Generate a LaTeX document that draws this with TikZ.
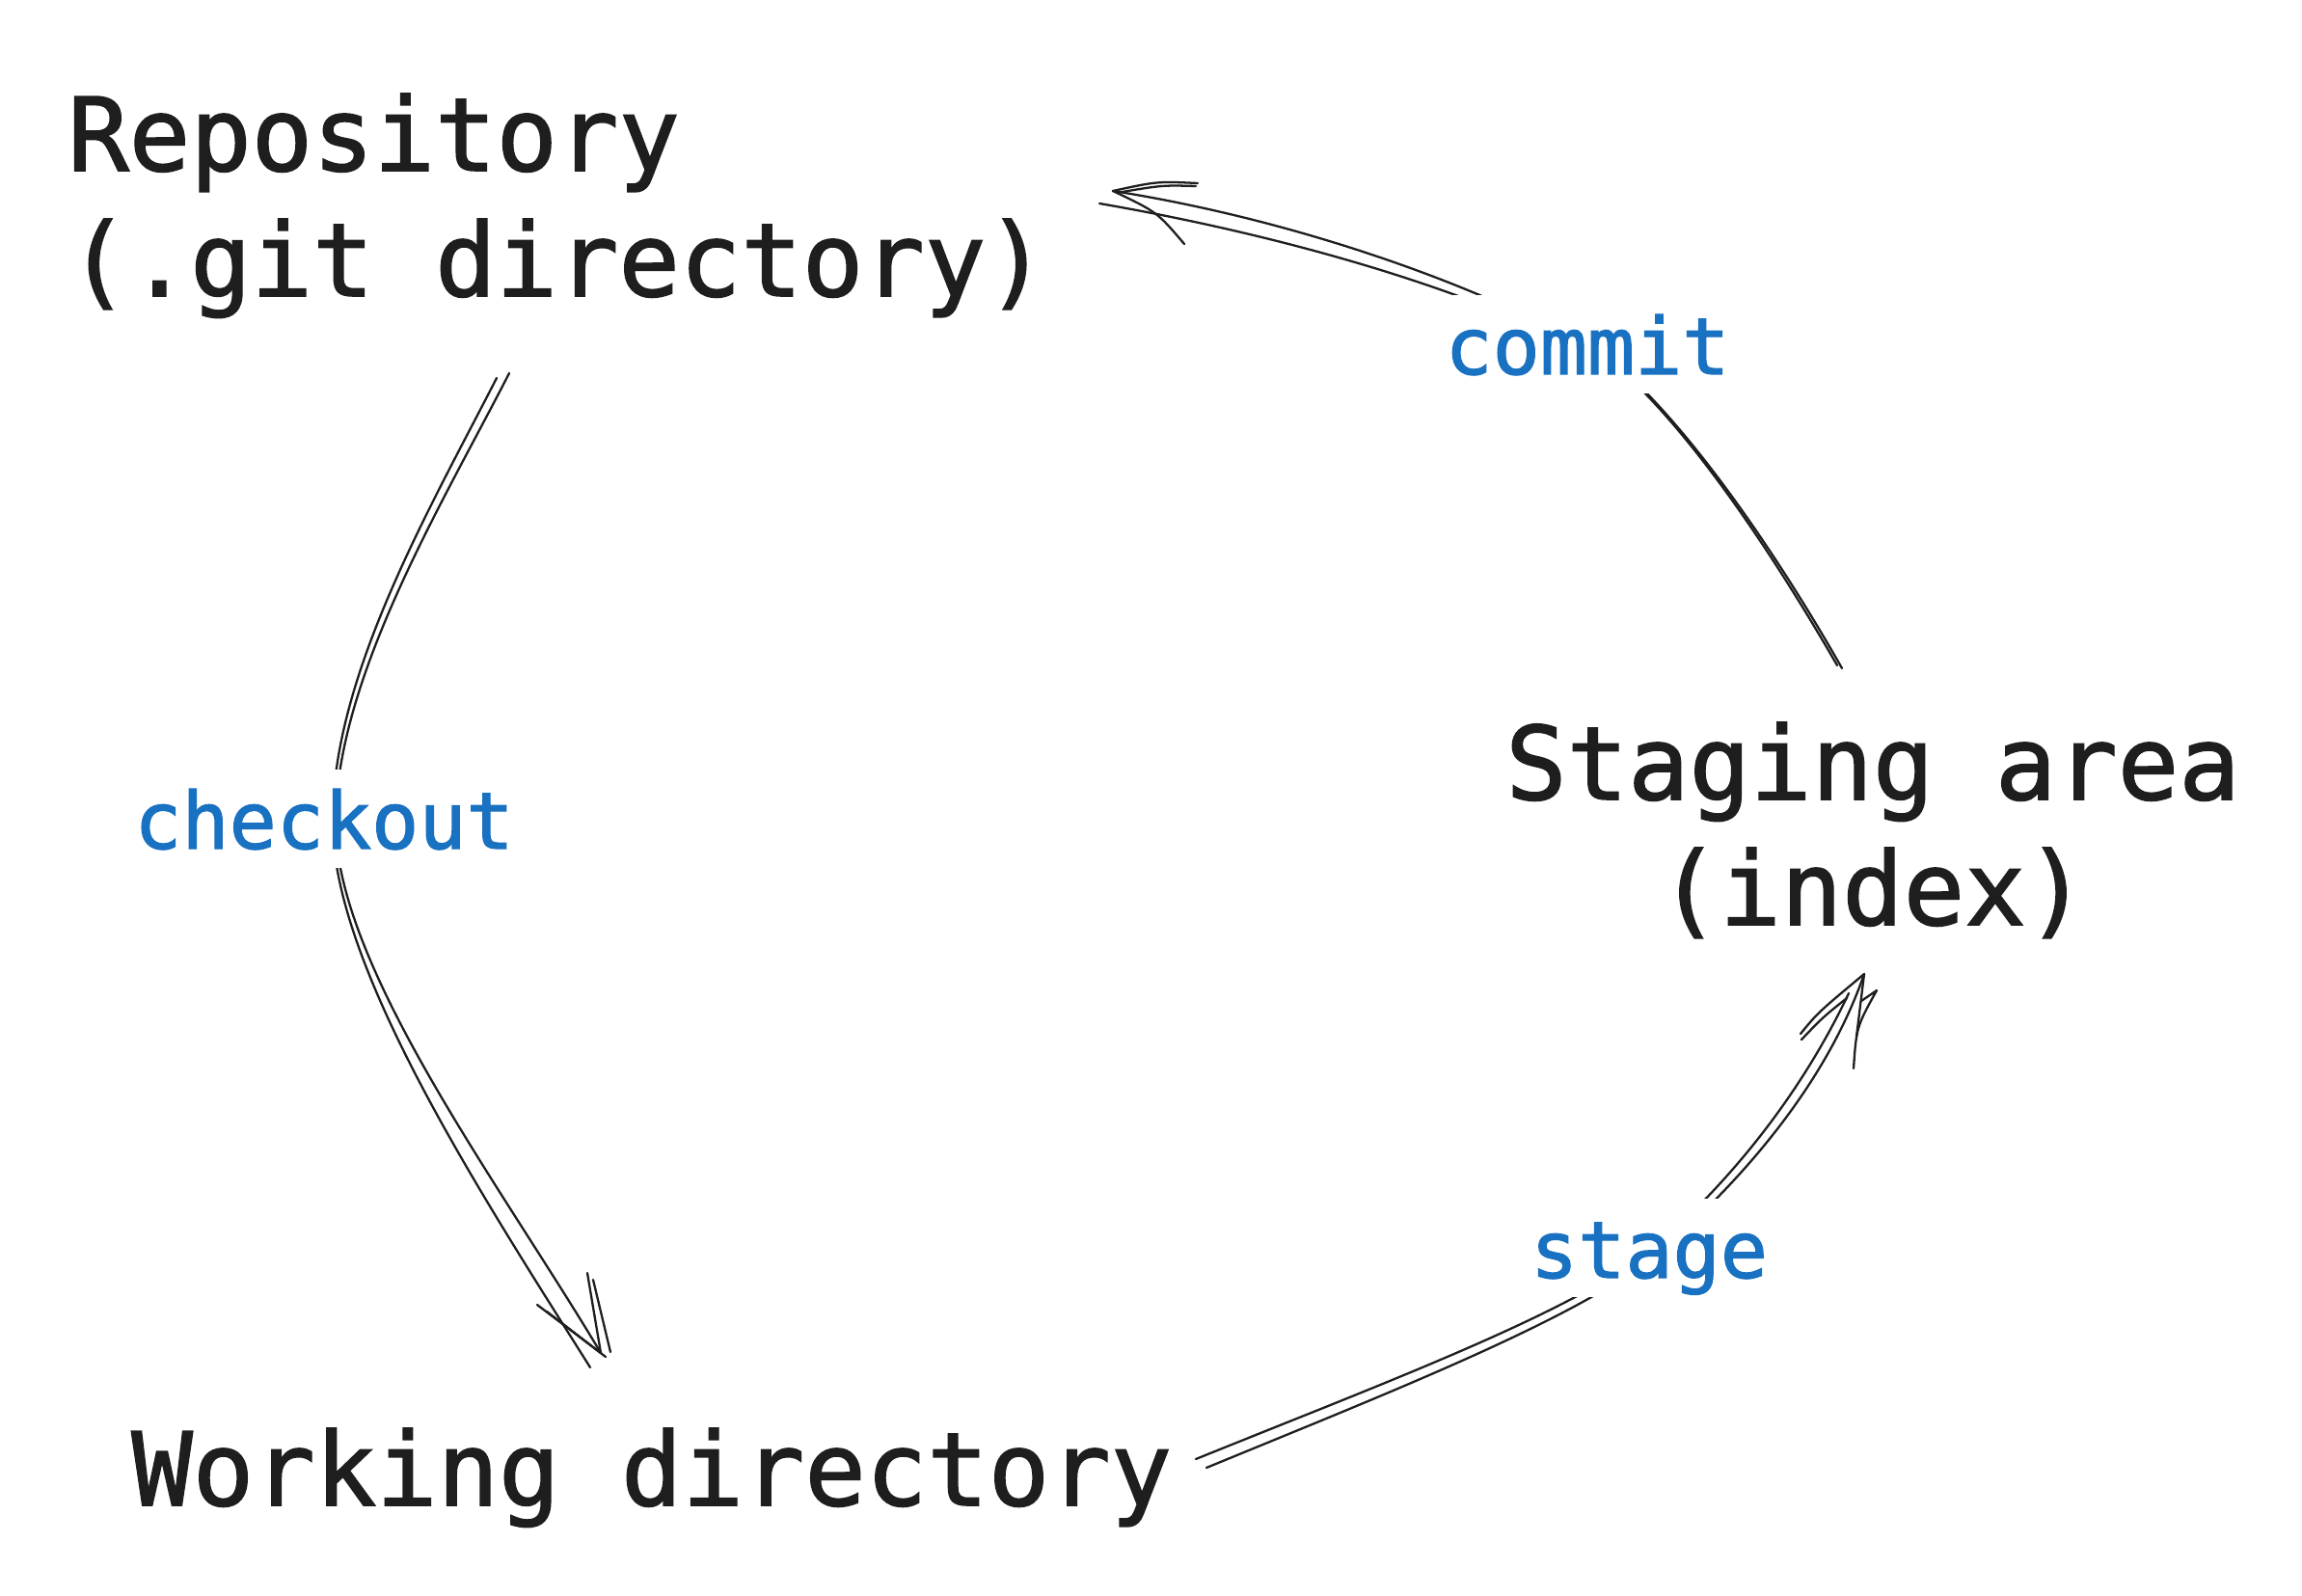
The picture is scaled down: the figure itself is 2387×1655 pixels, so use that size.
\documentclass[tikz,border=0pt]{standalone}
\usepackage{fontspec}
\usepackage{tikz}
\newfontfamily\codefont[FakeBold=1.5]{DejaVu Sans Mono}
\definecolor{ink}{HTML}{1E1E1E}
\definecolor{verb}{HTML}{1971C2}
\tikzstyle{place} = [font=\codefont\fontsize{60}{74}\selectfont, text=ink, inner sep=0pt]
\tikzstyle{action} = [font=\codefont\fontsize{46.5}{58}\selectfont, text=verb,
    fill=white, inner xsep=4pt, inner ysep=0pt, text height=1.64cm, text depth=0.4cm]
\tikzstyle{sketch} = [draw=ink, line width=1.3pt, line cap=round, line join=round]

\begin{document}
\begin{tikzpicture}[x=0.02cm, y=-0.02cm]
            \fill[white] (0,0) rectangle (2387,1655);
            \useasboundingbox (0,0) rectangle (2387,1655);

            % base of a two-line node is its last line
            \node (repo) [place, align=left, anchor=base west] at (70,307) {Repository\\(.git directory)};
            \node (index) [place, align=center, anchor=base] at (1942,959) {Staging area\\(index)};
            \node (work) [place, anchor=base west] at (136,1561) {Working directory};

            % free ends of the arrows
            \coordinate (repo-out) at (528,387);
            \coordinate (work-in) at (623,1403);
            \coordinate (work-out) at (1251,1522);
            \coordinate (index-in) at (1933,1010);
            \coordinate (index-out) at (1910,693);
            \coordinate (repo-in) at (1154,198);

            % checkout
            \draw [sketch] (repo-out) .. controls (460,520) and (350,700) .. (348,850) .. controls (346,1000) and (520,1230) .. (work-in);
            \draw [sketch] (515,392) .. controls (447,525) and (345,700) .. (345,850) .. controls (343,1000) and (500,1240) .. (612,1418);
            \draw [sketch] (557,1353) -- (work-in);
            \draw [sketch] (567,1360) -- (628,1407);
            \draw [sketch] (609,1320) -- (work-in);
            \draw [sketch] (615,1327) -- (633,1402);

            % stage
            \draw [sketch] (work-out) .. controls (1450,1440) and (1650,1362) .. (1728,1292) .. controls (1812,1218) and (1895,1120) .. (index-in);
            \draw [sketch] (1240,1513) .. controls (1440,1432) and (1640,1358) .. (1722,1288) .. controls (1805,1214) and (1872,1125) .. (1917,1030);
            \draw [sketch] (1867,1072) .. controls (1885,1050) .. (index-in);
            \draw [sketch] (1868,1078) .. controls (1890,1055) .. (1915,1035);
            \draw [sketch] (index-in) -- (1925,1075);
            \draw [sketch] (1922,1108) .. controls (1925,1065) .. (1946,1027) -- (1930,1038);

            % commit
            \draw [sketch] (index-out) .. controls (1860,605) and (1780,480) .. (1700,400) .. controls (1655,350) and (1420,240) .. (repo-in);
            \draw [sketch] (1905,690) .. controls (1855,603) and (1776,478) .. (1700,402) .. controls (1620,335) and (1400,256) .. (1140,211);
            \draw [sketch] (repo-in) .. controls (1200,188) .. (1242,190);
            \draw [sketch] (1158,200) .. controls (1205,192) .. (1240,193);
            \draw [sketch] (repo-in) .. controls (1200,220) .. (1228,253);

            \node (checkout) [action, anchor=base] at (336,880) {checkout};
            \node (stage) [action, anchor=base] at (1710,1325) {stage};
            \node (commit) [action, anchor=base] at (1646,388) {commit};
        \end{tikzpicture}
\end{document}
